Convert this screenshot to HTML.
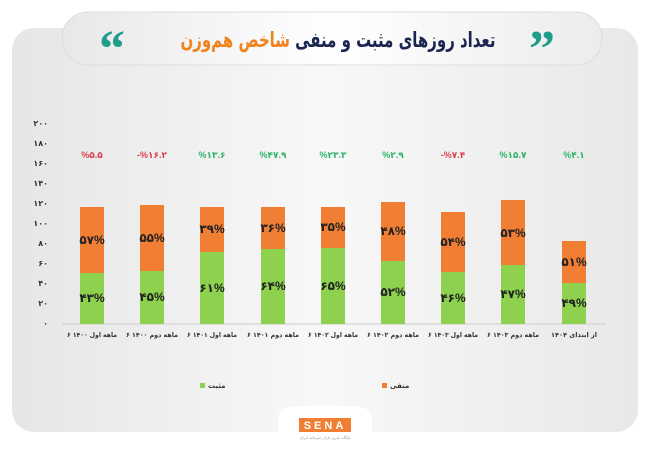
<!DOCTYPE html>
<html><head><meta charset="utf-8"><style>
body{margin:0;width:650px;height:450px;background:#fff;overflow:hidden;font-family:"Liberation Sans","Noto Sans CJK SC",sans-serif;}
</style></head><body>
<svg width="650" height="450" xmlns="http://www.w3.org/2000/svg" font-family="'Liberation Sans','DejaVu Sans',sans-serif">
<defs>
<linearGradient id="bg" x1="0" y1="0" x2="1" y2="0"><stop offset="0" stop-color="#e6e6e6"/><stop offset="0.5" stop-color="#f8f8f8"/><stop offset="1" stop-color="#e8e8e8"/></linearGradient>
<linearGradient id="pill" x1="0" y1="0" x2="1" y2="0"><stop offset="0" stop-color="#e8e8e8"/><stop offset="0.5" stop-color="#ffffff"/><stop offset="1" stop-color="#ececec"/></linearGradient>
</defs>
<rect x="0" y="0" width="650" height="450" fill="#fff"/>
<rect x="12" y="28" width="626" height="404" rx="22" fill="url(#bg)"/>
<rect x="62" y="12" width="540" height="53" rx="26" fill="url(#pill)" stroke="#dcdcdc"/>
<text x="112" y="66" font-size="52" font-weight="bold" fill="#1e9e8a" text-anchor="middle" font-family="'Liberation Serif',serif">“</text>
<text x="542" y="66" font-size="52" font-weight="bold" fill="#1e9e8a" text-anchor="middle" font-family="'Liberation Serif',serif">”</text>
<text x="338" y="47" font-size="21" font-weight="bold" text-anchor="middle" direction="rtl" font-family="'DejaVu Sans',sans-serif" textLength="315" lengthAdjust="spacingAndGlyphs"><tspan fill="#1a2550">تعداد روزهای مثبت و منفی </tspan><tspan fill="#f0821e">شاخص هم‌وزن</tspan></text>
<g font-size="8" fill="#333" font-weight="bold" text-anchor="end">
<text x="48" y="126">۲۰۰</text><text x="48" y="146">۱۸۰</text><text x="48" y="166">۱۶۰</text><text x="48" y="186">۱۴۰</text><text x="48" y="206">۱۲۰</text><text x="48" y="226">۱۰۰</text><text x="48" y="246">۸۰</text><text x="48" y="266">۶۰</text><text x="48" y="286">۴۰</text><text x="48" y="306">۲۰</text><text x="48" y="326">۰</text>
</g>
<line x1="62" y1="324" x2="606" y2="324" stroke="#ccc" stroke-width="1"/>
<g id="bars">
<rect x="80" y="207" width="24" height="66" fill="#f07f33"/><rect x="80" y="273" width="24" height="51" fill="#8dd14f"/>
<rect x="140" y="205" width="24" height="66" fill="#f07f33"/><rect x="140" y="271" width="24" height="53" fill="#8dd14f"/>
<rect x="200" y="207" width="24" height="45" fill="#f07f33"/><rect x="200" y="252" width="24" height="72" fill="#8dd14f"/>
<rect x="261" y="207" width="24" height="42" fill="#f07f33"/><rect x="261" y="249" width="24" height="75" fill="#8dd14f"/>
<rect x="321" y="207" width="24" height="41" fill="#f07f33"/><rect x="321" y="248" width="24" height="76" fill="#8dd14f"/>
<rect x="381" y="202" width="24" height="59" fill="#f07f33"/><rect x="381" y="261" width="24" height="63" fill="#8dd14f"/>
<rect x="441" y="212" width="24" height="60" fill="#f07f33"/><rect x="441" y="272" width="24" height="52" fill="#8dd14f"/>
<rect x="501" y="200" width="24" height="65" fill="#f07f33"/><rect x="501" y="265" width="24" height="59" fill="#8dd14f"/>
<rect x="562" y="241" width="24" height="42" fill="#f07f33"/><rect x="562" y="283" width="24" height="41" fill="#8dd14f"/>
</g>
<g font-size="12" font-weight="bold" fill="#222" text-anchor="middle">
<text x="92" y="244">۵۷%</text><text x="92" y="302">۴۳%</text>
<text x="152" y="242">۵۵%</text><text x="152" y="301">۴۵%</text>
<text x="212" y="233">۳۹%</text><text x="212" y="292">۶۱%</text>
<text x="273" y="232">۳۶%</text><text x="273" y="290">۶۴%</text>
<text x="333" y="231">۳۵%</text><text x="333" y="290">۶۵%</text>
<text x="393" y="235">۴۸%</text><text x="393" y="296">۵۲%</text>
<text x="453" y="246">۵۴%</text><text x="453" y="302">۴۶%</text>
<text x="513" y="237">۵۳%</text><text x="513" y="298">۴۷%</text>
<text x="574" y="266">۵۱%</text><text x="574" y="307">۴۹%</text>
</g>
<g font-size="9" font-weight="bold" text-anchor="middle">
<text x="92" y="158" fill="#d9434f">%۵.۵</text>
<text x="152" y="158" fill="#d9434f">-%۱۶.۲</text>
<text x="212" y="158" fill="#2fb36a">%۱۳.۶</text>
<text x="273" y="158" fill="#2fb36a">%۴۷.۹</text>
<text x="333" y="158" fill="#2fb36a">%۲۳.۳</text>
<text x="393" y="158" fill="#2fb36a">%۲.۹</text>
<text x="453" y="158" fill="#d9434f">-%۷.۴</text>
<text x="513" y="158" fill="#2fb36a">%۱۵.۷</text>
<text x="574" y="158" fill="#2fb36a">%۴.۱</text>
</g>
<g font-size="6.5" font-weight="bold" fill="#333" text-anchor="middle" font-family="'DejaVu Sans',sans-serif">
<text x="92" y="337" textLength="50" lengthAdjust="spacingAndGlyphs">۶ ماهه اول ۱۴۰۰</text>
<text x="152" y="337" textLength="52" lengthAdjust="spacingAndGlyphs">۶ ماهه دوم ۱۴۰۰</text>
<text x="212" y="337" textLength="50" lengthAdjust="spacingAndGlyphs">۶ ماهه اول ۱۴۰۱</text>
<text x="273" y="337" textLength="52" lengthAdjust="spacingAndGlyphs">۶ ماهه دوم ۱۴۰۱</text>
<text x="333" y="337" textLength="50" lengthAdjust="spacingAndGlyphs">۶ ماهه اول ۱۴۰۲</text>
<text x="393" y="337" textLength="52" lengthAdjust="spacingAndGlyphs">۶ ماهه دوم ۱۴۰۲</text>
<text x="453" y="337" textLength="50" lengthAdjust="spacingAndGlyphs">۶ ماهه اول ۱۴۰۳</text>
<text x="513" y="337" textLength="52" lengthAdjust="spacingAndGlyphs">۶ ماهه دوم ۱۴۰۳</text>
<text x="574" y="337" textLength="46" lengthAdjust="spacingAndGlyphs">از ابتدای ۱۴۰۴</text>
</g>
<rect x="200" y="383" width="5" height="5" fill="#8dd14f"/>
<text x="208" y="388" font-size="7" font-weight="bold" fill="#333" font-family="'DejaVu Sans',sans-serif">مثبت</text>
<rect x="382" y="383" width="5" height="5" fill="#f07f33"/>
<text x="390" y="388" font-size="7" font-weight="bold" fill="#333" font-family="'DejaVu Sans',sans-serif">منفی</text>
<path d="M278 432 L278 420 Q278 406 298 406 L352 406 Q372 406 372 420 L372 432 Z" fill="#fff"/>
<rect x="299" y="418" width="52" height="14" fill="#f07f33"/>
<text x="325" y="429" font-size="11" font-weight="bold" fill="#fff" text-anchor="middle" letter-spacing="3">SENA</text>
<text x="325" y="439" font-size="4" fill="#999" text-anchor="middle" font-family="'DejaVu Sans',sans-serif">پایگاه خبری بازار سرمایه ایران</text>
</svg>
</body></html>
